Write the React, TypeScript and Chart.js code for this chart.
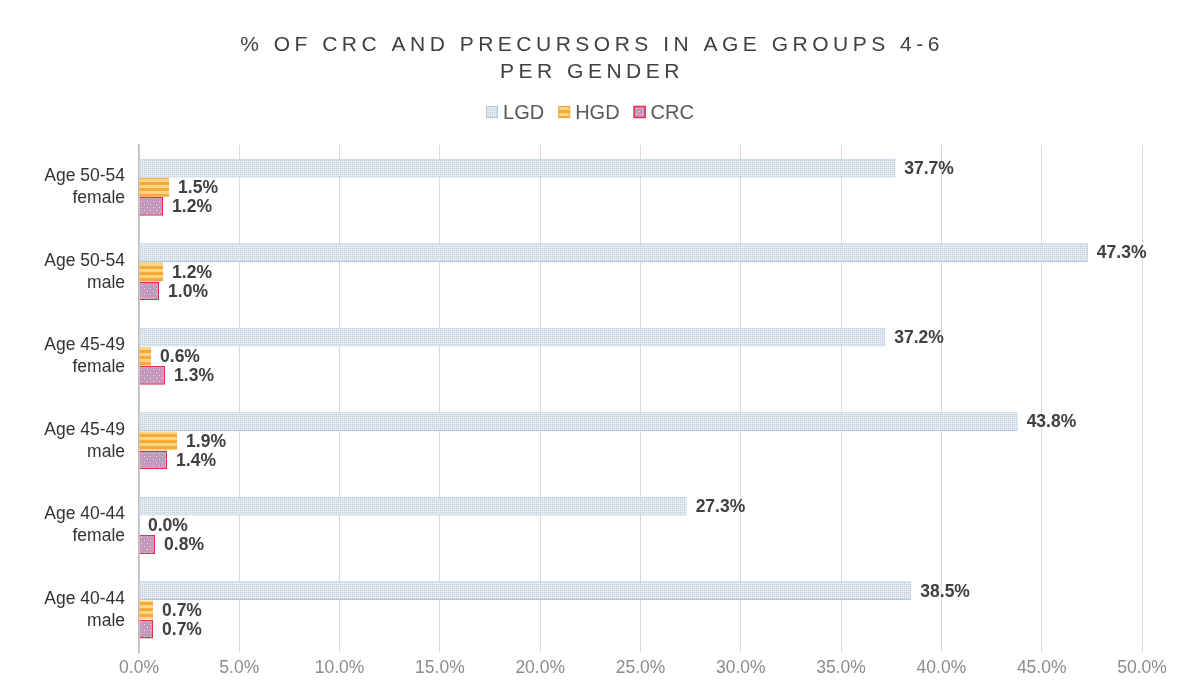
import React, { useEffect, useRef } from "react";
import { Chart, registerables } from "chart.js";
Chart.register(...registerables);

const categories: string[][] = [
  ["Age 50-54", "female"],
  ["Age 50-54", "male"],
  ["Age 45-49", "female"],
  ["Age 45-49", "male"],
  ["Age 40-44", "female"],
  ["Age 40-44", "male"],
];
const seriesNames = ["LGD", "HGD", "CRC"];
const lgdValues = [37.7, 47.3, 37.2, 43.8, 27.3, 38.5];
const hgdValues = [1.5, 1.2, 0.6, 1.9, 0.0, 0.7];
const crcValues = [1.2, 1.0, 1.3, 1.4, 0.8, 0.7];
const titleLines = ["% OF CRC AND PRECURSORS IN AGE GROUPS 4-6", "PER GENDER"];

const FONT = '"Liberation Sans", Arial, sans-serif';

function makePattern(kind: string): CanvasPattern | string {
  const c = document.createElement("canvas");
  const ctx = c.getContext("2d");
  if (!ctx) return "#ccc";
  if (kind === "lgd") {
    c.width = 2; c.height = 2;
    ctx.fillStyle = "#dde5ee";
    ctx.fillRect(0, 0, 2, 2);
    ctx.fillStyle = "#c3d0dd";
    ctx.fillRect(0, 0, 1, 1);
    ctx.fillStyle = "#ecf0f5";
    ctx.fillRect(1, 1, 1, 1);
  } else if (kind === "hgd") {
    c.width = 4; c.height = 6;
    ctx.fillStyle = "#fbd680";
    ctx.fillRect(0, 0, 4, 6);
    ctx.fillStyle = "#f3ab40";
    ctx.fillRect(0, 0, 4, 3);
  } else {
    c.width = 6; c.height = 6;
    ctx.fillStyle = "#cc90ae";
    ctx.fillRect(0, 0, 6, 6);
    ctx.fillStyle = "#b9a0c8";
    ctx.fillRect(0, 3, 3, 3);
    ctx.fillRect(3, 0, 3, 3);
    ctx.fillStyle = "#f6e8f0";
    ctx.fillRect(1, 1, 1, 1);
    ctx.fillRect(4, 4, 1, 1);
  }
  return ctx.createPattern(c, "repeat") || "#ccc";
}

export default function App() {
  const ref = useRef<HTMLCanvasElement | null>(null);
  useEffect(() => {
    if (!ref.current) return;
    const lgdFill = makePattern("lgd");
    const hgdFill = makePattern("hgd");
    const crcFill = makePattern("crc");
    const borderColors = ["#b0c9e3", "#f2a93b", "#e0304c"];
    const fills = [lgdFill, hgdFill, crcFill];

    const headerPlugin = {
      id: "header",
      afterDraw(chart: any) {
        const ctx = chart.ctx as CanvasRenderingContext2D;
        const cx = 582;
        ctx.save();
        ctx.fillStyle = "#404040";
        ctx.font = `21px ${FONT}`;
        (ctx as any).letterSpacing = "4.5px";
        ctx.textAlign = "center";
        ctx.textBaseline = "middle";
        ctx.fillText(titleLines[0], cx + 2, 37);
        ctx.fillText(titleLines[1], cx + 2, 64);
        (ctx as any).letterSpacing = "0px";
        // legend
        ctx.font = `20px ${FONT}`;
        const box = 12, gap = 5, spacing = 14;
        const widths = seriesNames.map((n) => ctx.measureText(n).width);
        const total = widths.reduce((a, w) => a + box + gap + w, 0) + spacing * (seriesNames.length - 1);
        let x = cx - total / 2;
        const y = 104;
        ctx.textAlign = "left";
        seriesNames.forEach((n, i) => {
          ctx.fillStyle = fills[i] as any;
          ctx.fillRect(x, y - box / 2, box, box);
          ctx.strokeStyle = borderColors[i];
          ctx.lineWidth = i === 2 ? 1.5 : 1;
          ctx.strokeRect(x + 0.5, y - box / 2 + 0.5, box - 1, box - 1);
          ctx.fillStyle = "#595959";
          ctx.fillText(n, x + box + gap, y + 1);
          x += box + gap + widths[i] + spacing;
        });
        ctx.restore();
      },
      afterDatasetsDraw(chart: any) {
        const ctx = chart.ctx as CanvasRenderingContext2D;
        ctx.save();
        ctx.font = `bold 17.5px ${FONT}`;
        ctx.fillStyle = "#404040";
        ctx.textAlign = "left";
        ctx.textBaseline = "middle";
        chart.data.datasets.forEach((ds: any, di: number) => {
          const meta = chart.getDatasetMeta(di);
          meta.data.forEach((bar: any, i: number) => {
            const v = ds.data[i] as number;
            ctx.fillText(v.toFixed(1) + "%", bar.x + 9, bar.y + 1);
          });
        });
        ctx.restore();
      },
    };

    const chart = new Chart(ref.current, {
      type: "bar",
      data: {
        labels: categories,
        datasets: [
          { label: seriesNames[0], data: lgdValues, backgroundColor: lgdFill as any, borderColor: borderColors[0], borderWidth: 1 },
          { label: seriesNames[1], data: hgdValues, backgroundColor: hgdFill as any, borderColor: borderColors[1], borderWidth: 0 },
          { label: seriesNames[2], data: crcValues, backgroundColor: crcFill as any, borderColor: borderColors[2], borderWidth: 1.5 },
        ],
      },
      options: {
        indexAxis: "y",
        animation: false,
        responsive: true,
        maintainAspectRatio: false,
        layout: { padding: { top: 137, right: 50, bottom: 0, left: 0 } },
        datasets: { bar: { categoryPercentage: 0.68, barPercentage: 0.98 } } as any,
        plugins: {
          legend: { display: false },
          title: { display: false },
          tooltip: { enabled: false },
        },
        scales: {
          x: {
            min: 0,
            max: 50,
            ticks: {
              stepSize: 5,
              color: "#8c8c8c",
              font: { size: 17.5, family: FONT },
              padding: 6,
              callback: (v: any) => Number(v).toFixed(1) + "%",
            },
            grid: { color: "#d9d9d9", drawTicks: false, lineWidth: 1 },
            border: { display: false },
          },
          y: {
            afterFit: (scale: any) => { scale.width = 131; },
            ticks: {
              color: "#333333",
              font: { size: 17.5, family: FONT, lineHeight: 1.25 },
              padding: 14,
            },
            grid: { display: false, drawTicks: false },
            border: { display: true, color: "#bfbfbf", width: 1.5 },
          },
        },
      },
      plugins: [headerPlugin],
    });
    return () => chart.destroy();
  }, []);
  return (
    <div style={{ width: 1184, height: 680, position: "relative" }}>
      <canvas ref={ref} />
    </div>
  );
}
